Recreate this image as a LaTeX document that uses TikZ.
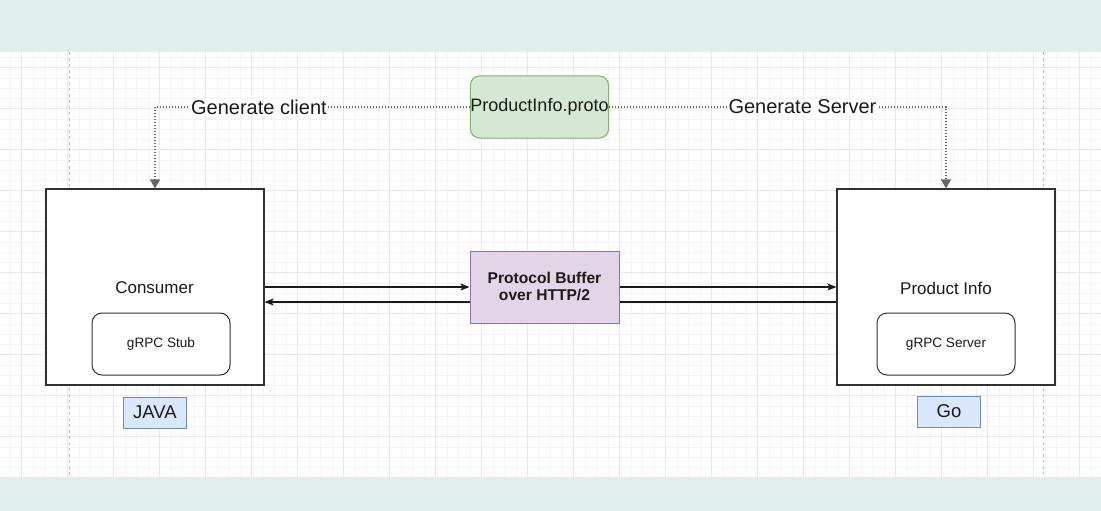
\documentclass[tikz,border=0pt]{standalone}
\usepackage{fontspec}
\setmainfont{Liberation Sans}
\usetikzlibrary{arrows.meta,positioning}

\definecolor{bandcol}{HTML}{E1EFEC}
\definecolor{gridminor}{HTML}{F4F4F4}
\definecolor{gridmajor}{HTML}{E8E8E8}
\definecolor{protofill}{HTML}{D5E8D4}
\definecolor{protodraw}{HTML}{82B366}
\definecolor{pbuffill}{HTML}{E1D5E7}
\definecolor{pbufdraw}{HTML}{9673A6}
\definecolor{langfill}{HTML}{DAE8FC}
\definecolor{langdraw}{HTML}{6C8EBF}
\definecolor{inkcol}{HTML}{1A1A1A}

\begin{document}
\begin{tikzpicture}[
            x=1pt,y=-1pt,
            svcbox/.style={draw=inkcol!90,line width=1.1pt,fill=white,minimum width=218pt,minimum height=196pt,inner sep=0pt},
            rpcbox/.style={draw=inkcol!90,line width=1pt,rounded corners=10pt,fill=white,minimum width=138pt,minimum height=62pt,inner sep=0pt,font=\fontsize{13.6}{16}\selectfont,text=inkcol},
            langbox/.style={draw=langdraw,fill=langfill,line width=0.8pt,minimum width=63pt,minimum height=31pt,inner sep=0pt,font=\fontsize{18.5}{22}\selectfont,text=inkcol},
            gen/.style={draw=black!60,line width=1.4pt,dash pattern=on 1.4pt off 1.6pt,-{Triangle[length=9pt,width=10pt]}},
            msg/.style={draw=inkcol,line width=1.1pt,-{Stealth[length=9pt,width=7pt,inset=2pt]}}
        ]
            \useasboundingbox (0,0) rectangle (1101,511);

            % background bands and grid
            \fill [bandcol] (0,0) rectangle (1101,52);
            \fill [bandcol] (0,478) rectangle (1101,511);
            \foreach \x in {10.2,21.7,...,1101} {
                \draw [gridminor,line width=0.8pt] (\x,52) -- (\x,478);
            }
            \foreach \y in {57.45,67.7,...,478} {
                \draw [gridminor,line width=0.8pt] (0,\y) -- (1101,\y);
            }
            \foreach \x in {21.7,67.7,...,1101} {
                \draw [gridmajor,line width=1pt] (\x,52) -- (\x,478);
            }
            \foreach \y in {67.7,108.7,...,478} {
                \draw [gridmajor,line width=1pt] (0,\y) -- (1101,\y);
            }
            \draw [black!25,line width=0.8pt,dash pattern=on 3pt off 3pt] (69,52) -- (69,478);
            \draw [black!25,line width=0.8pt,dash pattern=on 3pt off 3pt] (1043,52) -- (1043,478);

            % boxes
            \node [draw=protodraw,fill=protofill,line width=1pt,rounded corners=9pt,minimum width=137pt,minimum height=62pt,inner sep=0pt,font=\fontsize{18}{21}\selectfont,text=inkcol] (proto) at (539.5,107) {ProductInfo.proto};

            \node [svcbox] (consumer) at (155,287) {};
            \node [font=\fontsize{17}{20}\selectfont,text=inkcol] (consumertxt) at (154.5,288) {Consumer};
            \node [rpcbox] (stub) at (161,344) {gRPC Stub};
            \node [langbox,below=11pt of consumer] (java) {JAVA};

            \node [svcbox] (product) at (946,287) {};
            \node [font=\fontsize{17}{20}\selectfont,text=inkcol] (producttxt) at (946,288) {Product Info};
            \node [rpcbox] (server) at (946,344) {gRPC Server};
            \node [langbox,below=10pt of product,xshift=3pt] (go) {Go};

            \node [draw=pbufdraw,fill=pbuffill,line width=1pt,minimum width=149pt,minimum height=72pt,inner sep=0pt,align=center,font=\fontsize{15.6}{17}\selectfont\bfseries,text=inkcol] (pbuf) at (544.5,287) {Protocol Buffer\\over HTTP/2};

            % generation
            \draw [gen] (proto.west) -| (consumer.north) node[pos=0.335,fill=white,inner sep=1pt,text=inkcol,font=\fontsize{20}{24}\selectfont]{Generate client};
            \draw [gen] (proto.east) -| (product.north) node[pos=0.287,fill=white,inner sep=1pt,text=inkcol,font=\fontsize{20}{24}\selectfont]{Generate Server};

            % messages
            \draw [msg] (consumer.east) -- (pbuf.west);
            \draw [msg] ([yshift=-15pt]pbuf.west) -- ([yshift=-15pt]consumer.east);
            \draw [msg] (pbuf.east) -- (product.west);
            \draw [draw=inkcol,line width=1.1pt] ([yshift=-15pt]product.west) -- ([yshift=-15pt]pbuf.east);
        \end{tikzpicture}
\end{document}
